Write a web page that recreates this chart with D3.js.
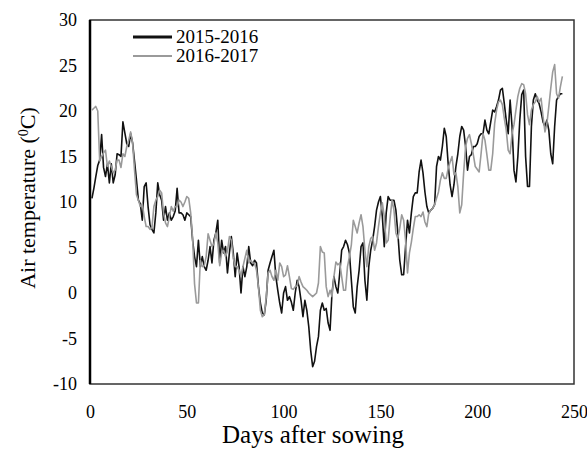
<!DOCTYPE html>
<html>
<head>
<meta charset="utf-8">
<script src="https://d3js.org/d3.v7.min.js"></script>
<style>
body { margin: 0; background: #fff; }
text { font-family: "Liberation Serif", "Times New Roman", serif; fill: #000; }
</style>
</head>
<body>
<div id="chart"></div>
<script>
// Daily air temperature, days 1..244 after sowing
const season1 = [ // 2015-2016
  10.4, 11.5, 12.8, 14.0, 14.6, 17.4, 13.8, 12.8, 14.2, 12.1,
  14.2, 12.1, 13.0, 15.3, 15.2, 15.0, 18.8, 17.6, 16.4, 16.1,
  17.5, 16.5, 14.5, 12.4, 10.2, 9.8, 8.0, 11.7, 12.1, 9.5,
  7.5, 7.0, 6.6, 8.8, 12.1, 10.8, 10.2, 8.0, 9.5, 8.0,
  8.8, 8.0, 8.4, 9.0, 11.5, 8.8, 8.8, 8.6, 8.0, 8.8,
  8.6, 8.4, 5.8, 4.0, 2.9, 5.8, 2.9, 4.0, 2.9, 2.5,
  3.6, 5.1, 3.3, 5.8, 6.6, 8.0, 3.3, 5.8, 4.4, 5.1,
  2.2, 4.4, 6.2, 4.4, 1.8, 4.4, 2.9, 0.0, 2.9, 1.8,
  2.9, 5.1, 3.3, 3.0, 3.6, 3.3, 0.7, -1.1, -2.2, -2.4,
  -0.8, 2.5, 3.3, 4.0, 4.7, 1.8, 0.3, -1.1, -2.2, 0.0,
  0.7, -0.8, -0.4, -1.0, -1.9, 0.0, 1.4, 0.7,
  -0.8, -2.6, -0.8, -1.9, -3.7, -6.3, -8.1, -7.5, -5.9, -4.8,
  -1.9, -1.1, -1.9, -1.7, -3.3, -4.1, 0.0, 1.8, 0.7, 0.0,
  2.2, 4.7, 5.1, 5.8, 5.3, 4.4, 1.4, -1.5, -2.2, 0.7,
  2.5, 5.1, 5.5, 1.4, -0.8, 2.9, 4.7, 5.8, 7.3, 9.1,
  10.0, 10.6, 8.4, 5.1, 8.8, 10.6, 10.2, 10.2, 10.2, 9.1,
  6.6, 3.6, 2.0, 2.0, 5.1, 8.0, 6.6, 8.8, 10.6, 11.0,
  11.0, 13.3, 14.6, 13.2, 11.1, 9.5, 8.8, 9.1, 9.3, 9.7,
  13.9, 15.0, 14.6, 16.1, 18.1, 17.2, 14.2, 11.9, 10.6, 11.9,
  13.9, 15.3, 17.2, 18.3, 17.9, 16.1, 13.5, 15.0, 15.2, 16.1,
  16.1, 16.4, 17.2, 17.5, 17.5, 19.0, 17.9, 17.5, 18.8, 20.1,
  19.9, 20.5, 21.2, 22.3, 22.5, 20.8, 19.0, 17.5, 21.2, 18.3,
  13.5, 12.2, 15.0, 19.0, 21.8, 22.3, 15.0, 11.7, 11.7, 18.3,
  21.2, 21.9, 21.2, 20.8, 19.9, 18.8, 18.3, 19.0, 17.9, 15.3,
  14.2, 18.3, 21.2, 21.6, 21.9, 21.9
];
const season2 = [ // 2016-2017
  20.1, 20.3, 20.5, 20.0, 14.5, 15.0, 15.4, 15.7, 13.9, 14.5,
  13.9, 13.2, 13.5, 14.6, 14.6, 13.8, 15.3, 15.0, 16.1, 16.8,
  17.7, 16.5, 13.5, 10.8, 10.2, 9.5, 9.8, 8.4, 7.3, 7.3,
  7.0, 7.2, 9.5, 10.2, 10.6, 11.3, 11.0, 8.8, 7.7, 7.3,
  8.4, 9.5, 9.0, 9.5, 9.5, 10.2, 10.0, 9.5, 10.0, 10.6,
  10.4, 8.8, 6.0, 1.0, -1.1, -1.1, 3.6, 2.9, 3.0, 4.0,
  6.5, 5.8, 5.1, 5.4, 6.6, 5.5, 3.0, 4.4, 4.7, 4.0,
  4.6, 6.2, 5.8, 3.8, 2.9, 2.9, 2.5, 1.8, 2.9, 3.8,
  4.7, 3.3, 3.6, 3.3, 3.3, 2.5, 0.7, -1.9, -2.6, -2.4,
  -0.5, 2.2, 2.5, 1.8, 1.4, 2.5, 1.4, 3.3, 2.9, 1.8,
  2.0, 3.0, 1.8, 0.5, 0.4, 0.7, 0.8, 1.8,
  1.2, 0.7, 0.5, 0.3, 0.0, -0.2, -0.4, -0.2, 0.0, 1.1,
  5.1, 4.5, 4.4, 0.7, -0.4, 0.3, -0.4, 1.8, 3.4, 3.1,
  3.3, 1.8, 0.3, 0.3, 2.9, 4.0, 5.3, 8.0, 7.3, 6.6,
  7.7, 8.6, 7.3, 4.7, 2.9, 5.1, 6.0, 6.2, 4.7, 5.5,
  7.3, 8.8, 9.9, 8.4, 5.5, 5.8, 8.2, 10.2, 9.1, 6.6,
  6.0, 7.1, 8.6, 8.0, 5.8, 2.2, 4.4, 5.6, 7.1, 8.4,
  8.4, 8.6, 8.4, 8.9, 7.8, 7.3, 8.8, 9.1, 9.3, 9.7,
  10.4, 11.1, 12.4, 13.2, 12.6, 12.6, 13.7, 14.4, 15.0, 13.0,
  13.2, 11.7, 8.8, 9.7, 13.2, 16.1, 17.0, 17.4, 16.4, 15.2,
  13.9, 13.6, 13.3, 15.3, 17.5, 16.8, 15.2, 13.5, 13.5, 15.3,
  18.6, 20.1, 21.0, 21.2, 20.7, 19.2, 17.9, 15.7, 15.3, 17.5,
  18.5, 20.1, 21.6, 22.5, 23.0, 22.9, 21.9, 19.6, 18.5, 20.1,
  20.7, 21.0, 21.6, 21.0, 21.4, 19.4, 17.7, 18.6, 20.5, 22.5,
  24.3, 25.1, 21.9, 21.4, 22.7, 23.8
];
const seriesNames = ["2015-2016", "2016-2017"];
const seriesColors = ["#111111", "#9a9a9a"];
const xTicks = [0, 50, 100, 150, 200, 250];
const yTicks = [-10, -5, 0, 5, 10, 15, 20, 25, 30];

const svg = d3.select("#chart")
  .append("svg")
  .attr("width", 587)
  .attr("height", 451);

const margin = { top: 20, right: 13, bottom: 67, left: 90 };
const width = 587 - margin.left - margin.right;
const height = 451 - margin.top - margin.bottom;
const chart = svg.append("g").attr("transform", `translate(${margin.left},${margin.top})`);

const xScale = d3.scaleLinear().domain([0, 250]).range([0, width]);
const yScale = d3.scaleLinear().domain([-10, 30]).range([height, 0]);

// frame
chart.append("rect")
  .attr("width", width)
  .attr("height", height)
  .attr("fill", "none")
  .attr("stroke", "#333")
  .attr("stroke-width", 1.5);

// axes, labels only (plain hyphen for negatives)
const yAxis = chart.append("g")
  .call(d3.axisLeft(yScale).tickValues(yTicks).tickFormat(d => String(d)).tickSize(0).tickPadding(13));
const xAxis = chart.append("g")
  .attr("transform", `translate(0,${height})`)
  .call(d3.axisBottom(xScale).tickValues(xTicks).tickFormat(d => String(d)).tickSize(0).tickPadding(21));
[xAxis, yAxis].forEach(a => {
  a.select(".domain").remove();
  a.selectAll("text").style("font-family", "'Liberation Serif', serif").style("font-size", "18px").attr("fill", "#000");
});

// left border is heavier
chart.append("line")
  .attr("x1", 0).attr("x2", 0)
  .attr("y1", 0).attr("y2", height)
  .attr("stroke", "#000")
  .attr("stroke-width", 2.5);

const line = d3.line()
  .x((d, i) => xScale(i + 1))
  .y(d => yScale(d));

chart.selectAll(".series")
  .data([season1, season2])
  .enter().append("path")
  .attr("class", "series")
  .attr("fill", "none")
  .attr("stroke", (d, i) => seriesColors[i])
  .attr("stroke-width", 1.6)
  .attr("stroke-linejoin", "round")
  .attr("d", line);

// legend
const legend = chart.append("g").attr("transform", "translate(43,17)");
seriesNames.forEach((name, i) => {
  legend.append("line")
    .attr("x1", 0).attr("x2", 39)
    .attr("y1", i * 19).attr("y2", i * 19)
    .attr("stroke", seriesColors[i])
    .attr("stroke-width", i === 0 ? 3 : 2);
  legend.append("text")
    .attr("x", 43)
    .attr("y", i * 19 + 6)
    .style("font-size", "19px")
    .text(name);
});

// axis titles
svg.append("text")
  .attr("x", 313)
  .attr("y", 443)
  .attr("text-anchor", "middle")
  .style("font-size", "25px")
  .text("Days after sowing");

const yTitle = svg.append("text")
  .attr("transform", "translate(35,198) rotate(-90)")
  .attr("text-anchor", "middle")
  .style("font-size", "22px");
yTitle.append("tspan").text("Air temperature (");
yTitle.append("tspan").attr("baseline-shift", "super").style("font-size", "14px").text("0");
yTitle.append("tspan").text("C)");
</script>
</body>
</html>
